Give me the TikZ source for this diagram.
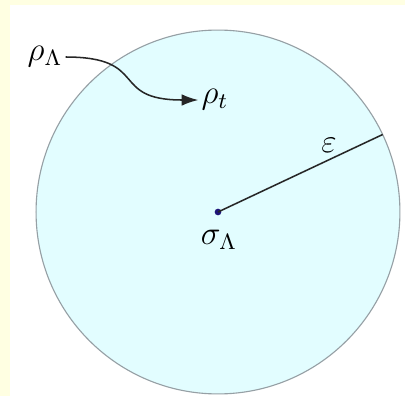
\documentclass[tikz,border=0pt]{standalone}
\usepackage{amsmath,amssymb}
\usepackage{tikz}
\usetikzlibrary{arrows.meta,positioning}
\definecolor{paperyellow}{RGB}{255,255,226}
\definecolor{ballfill}{RGB}{226,253,255}
\definecolor{ballrim}{RGB}{150,160,165}
\definecolor{centerdot}{RGB}{30,20,120}

\begin{document}
\begin{tikzpicture}[
  x=0.36pt,
  y=-0.36pt,
  >={Latex[length=6pt,width=4.2pt]},
  ball/.style={draw=ballrim, fill=ballfill, line width=0.4pt},
  statelabel/.style={inner sep=1pt, font=\large},
  centerpoint/.style={circle, fill=centerdot, inner sep=0pt, minimum size=2.4pt},
  radiusline/.style={line width=0.55pt, draw=black!85},
  flow/.style={->, line width=0.55pt, draw=black!85}
]
  % frame
  \fill[paperyellow] (0,0) rectangle (405,396);
  \fill[white] (10,5) rectangle (405,396);
  \useasboundingbox (0,0) rectangle (405,396);

  \draw[ball] (218,212) circle (65.5pt);

  \node[centerpoint] (sigma) at (218,212) {};
  \node[statelabel] (sigmalabel) at (219,240) {$\sigma_{\Lambda}$};
  \coordinate (rim) at (382.7,134.5);
  \draw[radiusline] (sigma.center) -- (rim);
  \node[statelabel] (eps) at (329,145) {$\varepsilon$};

  \node[statelabel] (rhoL) at (45,57) {$\rho_{\Lambda}$};
  \node[statelabel] (rhot) at (215,100) {$\rho_t$};
  \draw[flow] (rhoL.east) .. controls +(85,0) and +(-90,0) .. (rhot.west);
\end{tikzpicture}
\end{document}
